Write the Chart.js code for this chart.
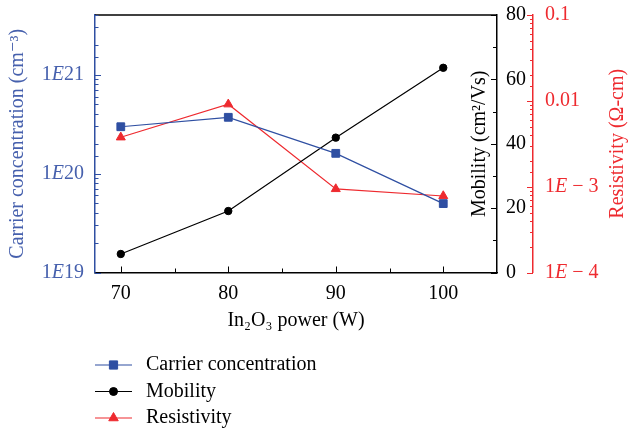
<!DOCTYPE html>
<html><head><meta charset="utf-8">
<script src="https://cdn.jsdelivr.net/npm/chart.js@4/dist/chart.umd.min.js"></script>
<style>html,body{margin:0;padding:0;background:#fff}#wrap{width:643px;height:432px;position:relative}</style>
</head><body><div id="wrap"><canvas id="c" width="643" height="432"></canvas></div>
<script>
// ---- data ----
const powers = [70, 80, 90, 100];
const carrierConc = [2.97e20, 3.70e20, 1.60e20, 4.97e19];
const mobility = [5.75, 19.1, 41.9, 63.6];
const resistivity = [3.76e-3, 9.12e-3, 9.4e-4, 7.79e-4];
const xTicks = [70, 75, 80, 85, 90, 95, 100];
const xLabelStep = 10;
const carrierDecades = [1e19, 1e20, 1e21];
const carrierLabels = ['1E19', '1E20', '1E21'];
const mobilityLabelStep = 20;
const resDecades = [1e-4, 1e-3, 1e-2, 1e-1];
const resLabels = ['1E \u2212 4', '1E \u2212 3', '0.01', '0.1'];
const seriesNames = ['Carrier concentration', 'Mobility', 'Resistivity'];

const BLUE = '#2f4fa2', BLUE_TXT = '#4660ad', RED = '#ee2a2f', BLACK = '#000';
const FONT = "'Liberation Serif','DejaVu Serif',serif";
const FS = 20;

function near(a, b) { return Math.abs(Math.log10(a) - Math.log10(b)) < 1e-6; }
function isDecade(v) { const l = Math.log10(v); return Math.abs(l - Math.round(l)) < 1e-6; }

const pts = arr => powers.map((p, i) => ({ x: p, y: arr[i] }));
const noPad = s => { s.paddingTop = 0; s.paddingBottom = 0; s.paddingLeft = 0; s.paddingRight = 0; };

// draw a label where the letter E is italic
function mixedText(ctx, text, x, y, align) {
  const parts = [];
  const idx = text.indexOf('E');
  if (idx >= 0) { parts.push([text.slice(0, idx), false], ['E', true], [text.slice(idx + 1), false]); }
  else parts.push([text, false]);
  const fontOf = it => (it ? 'italic ' : '') + FS + 'px ' + FONT;
  let w = 0;
  parts.forEach(([t, it]) => { ctx.font = fontOf(it); w += ctx.measureText(t).width; });
  let cx = align === 'right' ? x - w : x;
  ctx.textAlign = 'left'; ctx.textBaseline = 'middle';
  parts.forEach(([t, it]) => { ctx.font = fontOf(it); ctx.fillText(t, cx, y); cx += ctx.measureText(t).width; });
}

const decorations = {
  id: 'decorations',
  afterDraw(chart) {
    const { ctx, chartArea: a, scales } = chart;
    ctx.save();
    const seg = (x1, y1, x2, y2) => { ctx.beginPath(); ctx.moveTo(x1, y1); ctx.lineTo(x2, y2); ctx.stroke(); };
    // top border
    ctx.strokeStyle = BLACK; ctx.lineWidth = 1.5;
    seg(a.left, a.top, a.right, a.top);
    ctx.lineWidth = 1;
    // x ticks (inward)
    const sx = scales.x;
    sx.ticks.forEach(t => { const p = Math.round(sx.getPixelForValue(t.value)) + 0.5; const L = t.value % xLabelStep === 0 ? 6 : 4; seg(p, a.bottom, p, a.bottom - L); });
    // left log ticks
    const sy = scales.y; ctx.strokeStyle = BLUE;
    sy.ticks.forEach(t => { const p = Math.round(sy.getPixelForValue(t.value)) + 0.5; if (p < a.top - 1 || p > a.bottom + 1) return; const L = isDecade(t.value) ? 6 : 3.5; seg(a.left, p, a.left + L, p); });
    ctx.fillStyle = BLUE_TXT;
    carrierDecades.forEach((v, i) => mixedText(ctx, carrierLabels[i], a.left - 11, sy.getPixelForValue(v), 'right'));
    // mobility ticks
    const s1 = scales.y1; ctx.strokeStyle = BLACK;
    s1.ticks.forEach(t => { const p = Math.round(s1.getPixelForValue(t.value)) + 0.5; const L = t.value % mobilityLabelStep === 0 ? 6 : 4; seg(a.right, p, a.right - L, p); });
    // resistivity ticks
    const s2 = scales.y2; ctx.strokeStyle = RED;
    s2.ticks.forEach(t => { const p = Math.round(s2.getPixelForValue(t.value)) + 0.5; if (p < a.top - 1 || p > a.bottom + 1) return; const L = isDecade(t.value) ? 6 : 3; seg(s2.left, p, s2.left - L, p); });
    ctx.fillStyle = RED;
    resDecades.forEach((v, i) => mixedText(ctx, resLabels[i], s2.left + 12, s2.getPixelForValue(v), 'left'));
    // right axis titles (rotated, reading upward)
    ctx.font = FS + 'px ' + FONT; ctx.textAlign = 'center'; ctx.textBaseline = 'middle';
    const cy = (a.top + a.bottom) / 2;
    ctx.save(); ctx.translate(a.right - 17, cy); ctx.rotate(-Math.PI / 2); ctx.fillStyle = BLACK; ctx.fillText('Mobility (cm\u00B2/Vs)', 0, 0); ctx.restore();
    ctx.save(); ctx.translate(618, cy); ctx.rotate(-Math.PI / 2); ctx.fillStyle = RED; ctx.fillText('Resistivity (\u03A9-cm)', 0, 0); ctx.restore();
    // legend
    const rows = [365, 391.5, 418];
    chart.data.datasets.forEach((ds, i) => {
      const y = rows[i];
      ctx.strokeStyle = ds.borderColor; ctx.lineWidth = 1.2;
      seg(95, y, 132, y);
      ctx.fillStyle = ds.pointBackgroundColor; ctx.strokeStyle = ds.pointBorderColor; ctx.lineWidth = 1;
      Chart.helpers.drawPoint(ctx, { pointStyle: ds.pointStyle, radius: ds.pointRadius + 0.3, rotation: 0, borderWidth: 1 }, 113.5, y);
      ctx.fillStyle = BLACK; ctx.textAlign = 'left'; ctx.textBaseline = 'middle';
      ctx.font = FS + 'px ' + FONT;
      ctx.fillText(ds.label, 146, y);
    });
    ctx.restore();
  }
};

const common = { fill: false, borderWidth: 1.2, pointBorderWidth: 1 };
const chart = new Chart(document.getElementById('c'), {
  type: 'line',
  data: {
    datasets: [
      { ...common, label: seriesNames[0], data: pts(carrierConc), yAxisID: 'y', borderColor: BLUE, backgroundColor: BLUE, pointStyle: 'rect', pointRadius: 5.5, pointBackgroundColor: BLUE, pointBorderColor: BLUE },
      { ...common, label: seriesNames[1], data: pts(mobility), yAxisID: 'y1', borderColor: BLACK, backgroundColor: BLACK, pointStyle: 'circle', pointRadius: 3.7, pointBackgroundColor: BLACK, pointBorderColor: BLACK },
      { ...common, label: seriesNames[2], data: pts(resistivity), yAxisID: 'y2', borderColor: RED, backgroundColor: RED, pointStyle: 'triangle', pointRadius: 5.2, pointBackgroundColor: RED, pointBorderColor: RED }
    ]
  },
  options: {
    responsive: false, animation: false, devicePixelRatio: 1,
    layout: { padding: { top: 15, bottom: 89.5, left: 0, right: 0 } },
    plugins: { legend: { display: false }, tooltip: { enabled: false } },
    scales: {
      x: {
        type: 'linear', min: 67.6, max: 105,
        afterBuildTicks: s => { s.ticks = xTicks.map(v => ({ value: v })); },
        afterFit: s => { s.height = 70; noPad(s); },
        grid: { display: false, drawTicks: false },
        border: { display: true, color: BLACK, width: 1.5 },
        ticks: { color: BLACK, padding: 9, font: { family: FONT, size: FS }, maxRotation: 0, autoSkip: false,
          callback: v => (v % xLabelStep === 0 ? String(v) : '') },
        title: { display: true, text: 'In\u2082O\u2083 power (W)', color: BLACK, font: { family: FONT, size: FS }, padding: { top: 0, bottom: 10 } }
      },
      y: {
        type: 'logarithmic', position: 'left', min: 1e19, max: 4e21,
        afterFit: s => { s.width = 95; noPad(s); },
        grid: { display: false, drawTicks: false },
        border: { display: true, color: BLUE, width: 1.5 },
        ticks: { display: false },
        title: { display: true, text: 'Carrier concentration (cm\u207B\u00B3)', color: BLUE_TXT, font: { family: FONT, size: FS }, padding: { top: 6, bottom: 0 } }
      },
      y1: {
        type: 'linear', position: 'right', min: 0, max: 80, weight: 1,
        afterFit: s => { s.width = 36; noPad(s); },
        grid: { display: false, drawTicks: false },
        border: { display: true, color: BLACK, width: 1.5 },
        ticks: { stepSize: 10, color: BLACK, padding: 9, font: { family: FONT, size: FS }, autoSkip: false,
          callback: v => (v % mobilityLabelStep === 0 ? String(v) : '') }
      },
      y2: {
        type: 'logarithmic', position: 'right', min: 1e-4, max: 0.1, weight: 2,
        afterFit: s => { s.width = 110; noPad(s); },
        grid: { display: false, drawTicks: false },
        border: { display: true, color: RED, width: 1.5 },
        ticks: { display: false }
      }
    }
  },
  plugins: [decorations]
});
</script></body></html>
